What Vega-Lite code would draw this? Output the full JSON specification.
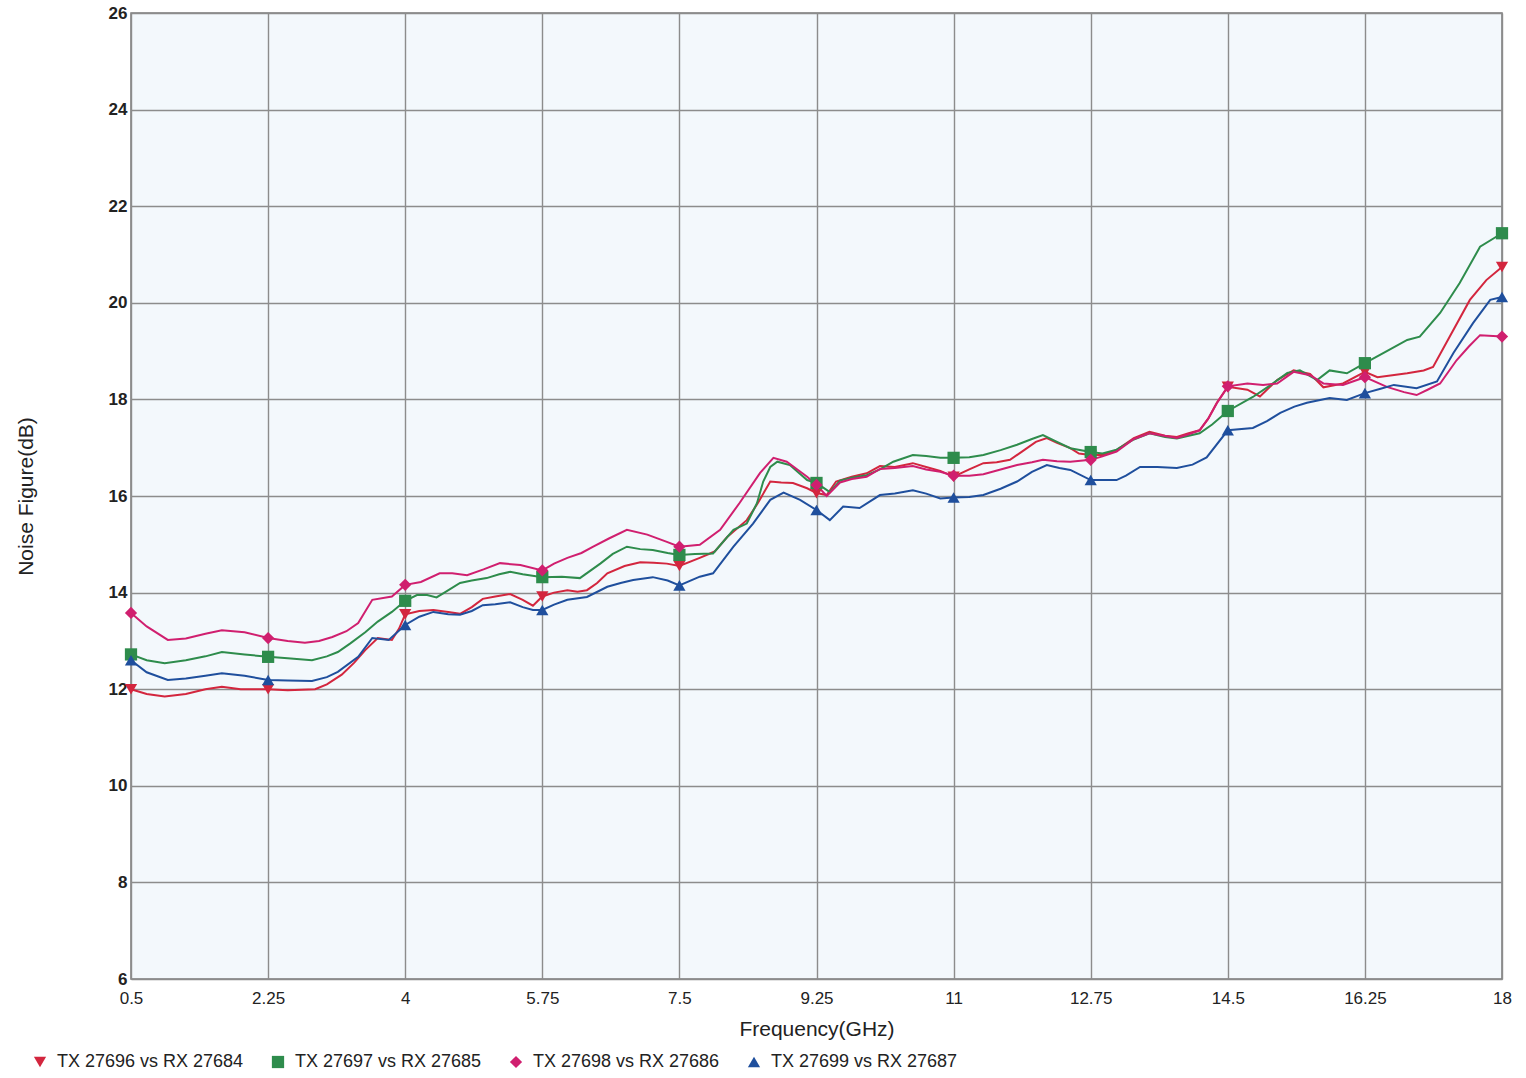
{
  "$schema": "https://vega.github.io/schema/vega-lite/v6.json",
  "width": 1371,
  "height": 966,
  "autosize": {"type": "none"},
  "padding": {"left": 131, "top": 13, "right": 24, "bottom": 99},
  "background": "#ffffff",
  "config": {
    "view": {"fill": "#f3f8fc", "stroke": "#7a7a7a", "strokeWidth": 1.5},
    "font": "Liberation Sans",
    "axis": {
      "gridColor": "#8c8c8c",
      "gridWidth": 1.4,
      "gridOpacity": 1,
      "domain": false,
      "ticks": false,
      "labelColor": "#222222",
      "titleColor": "#222222",
      "titleFontWeight": "normal",
      "labelFont": "Liberation Sans",
      "titleFont": "Liberation Sans"
    },
    "legend": {
      "labelFont": "Liberation Sans",
      "labelColor": "#222222",
      "labelLimit": 0
    }
  },
  "data": {
    "values": [
      {"series": "TX 27696 vs RX 27684", "freq": 0.5, "nf": 12.0},
      {"series": "TX 27696 vs RX 27684", "freq": 0.7, "nf": 11.9},
      {"series": "TX 27696 vs RX 27684", "freq": 0.93, "nf": 11.85},
      {"series": "TX 27696 vs RX 27684", "freq": 1.2, "nf": 11.9},
      {"series": "TX 27696 vs RX 27684", "freq": 1.45, "nf": 12.0},
      {"series": "TX 27696 vs RX 27684", "freq": 1.66, "nf": 12.05},
      {"series": "TX 27696 vs RX 27684", "freq": 1.9, "nf": 12.0},
      {"series": "TX 27696 vs RX 27684", "freq": 2.25, "nf": 12.0},
      {"series": "TX 27696 vs RX 27684", "freq": 2.5, "nf": 11.98},
      {"series": "TX 27696 vs RX 27684", "freq": 2.85, "nf": 12.0},
      {"series": "TX 27696 vs RX 27684", "freq": 3.0, "nf": 12.1},
      {"series": "TX 27696 vs RX 27684", "freq": 3.19, "nf": 12.3},
      {"series": "TX 27696 vs RX 27684", "freq": 3.35, "nf": 12.55},
      {"series": "TX 27696 vs RX 27684", "freq": 3.49, "nf": 12.81},
      {"series": "TX 27696 vs RX 27684", "freq": 3.65, "nf": 13.06},
      {"series": "TX 27696 vs RX 27684", "freq": 3.83, "nf": 13.02},
      {"series": "TX 27696 vs RX 27684", "freq": 3.92, "nf": 13.25},
      {"series": "TX 27696 vs RX 27684", "freq": 4.0, "nf": 13.55},
      {"series": "TX 27696 vs RX 27684", "freq": 4.18, "nf": 13.62},
      {"series": "TX 27696 vs RX 27684", "freq": 4.36, "nf": 13.64},
      {"series": "TX 27696 vs RX 27684", "freq": 4.55, "nf": 13.6},
      {"series": "TX 27696 vs RX 27684", "freq": 4.7, "nf": 13.56},
      {"series": "TX 27696 vs RX 27684", "freq": 4.85, "nf": 13.7},
      {"series": "TX 27696 vs RX 27684", "freq": 4.99, "nf": 13.87},
      {"series": "TX 27696 vs RX 27684", "freq": 5.15, "nf": 13.92},
      {"series": "TX 27696 vs RX 27684", "freq": 5.34, "nf": 13.97},
      {"series": "TX 27696 vs RX 27684", "freq": 5.5, "nf": 13.85},
      {"series": "TX 27696 vs RX 27684", "freq": 5.63, "nf": 13.73},
      {"series": "TX 27696 vs RX 27684", "freq": 5.75, "nf": 13.92},
      {"series": "TX 27696 vs RX 27684", "freq": 5.9, "nf": 14.0},
      {"series": "TX 27696 vs RX 27684", "freq": 6.07, "nf": 14.05},
      {"series": "TX 27696 vs RX 27684", "freq": 6.2, "nf": 14.02},
      {"series": "TX 27696 vs RX 27684", "freq": 6.32, "nf": 14.05},
      {"series": "TX 27696 vs RX 27684", "freq": 6.45, "nf": 14.2},
      {"series": "TX 27696 vs RX 27684", "freq": 6.58, "nf": 14.4},
      {"series": "TX 27696 vs RX 27684", "freq": 6.8, "nf": 14.55},
      {"series": "TX 27696 vs RX 27684", "freq": 7.0, "nf": 14.63},
      {"series": "TX 27696 vs RX 27684", "freq": 7.17, "nf": 14.62},
      {"series": "TX 27696 vs RX 27684", "freq": 7.34, "nf": 14.6},
      {"series": "TX 27696 vs RX 27684", "freq": 7.5, "nf": 14.55},
      {"series": "TX 27696 vs RX 27684", "freq": 7.76, "nf": 14.72},
      {"series": "TX 27696 vs RX 27684", "freq": 7.95, "nf": 14.85},
      {"series": "TX 27696 vs RX 27684", "freq": 8.11, "nf": 15.15},
      {"series": "TX 27696 vs RX 27684", "freq": 8.36, "nf": 15.5},
      {"series": "TX 27696 vs RX 27684", "freq": 8.5, "nf": 15.85},
      {"series": "TX 27696 vs RX 27684", "freq": 8.66, "nf": 16.3},
      {"series": "TX 27696 vs RX 27684", "freq": 8.8, "nf": 16.28},
      {"series": "TX 27696 vs RX 27684", "freq": 8.95, "nf": 16.27},
      {"series": "TX 27696 vs RX 27684", "freq": 9.13, "nf": 16.16},
      {"series": "TX 27696 vs RX 27684", "freq": 9.25, "nf": 16.06},
      {"series": "TX 27696 vs RX 27684", "freq": 9.38, "nf": 16.02},
      {"series": "TX 27696 vs RX 27684", "freq": 9.5, "nf": 16.3},
      {"series": "TX 27696 vs RX 27684", "freq": 9.7, "nf": 16.4},
      {"series": "TX 27696 vs RX 27684", "freq": 9.89, "nf": 16.47},
      {"series": "TX 27696 vs RX 27684", "freq": 10.06, "nf": 16.62},
      {"series": "TX 27696 vs RX 27684", "freq": 10.25, "nf": 16.6},
      {"series": "TX 27696 vs RX 27684", "freq": 10.48, "nf": 16.68},
      {"series": "TX 27696 vs RX 27684", "freq": 10.65, "nf": 16.6},
      {"series": "TX 27696 vs RX 27684", "freq": 10.83, "nf": 16.52},
      {"series": "TX 27696 vs RX 27684", "freq": 11.0, "nf": 16.4},
      {"series": "TX 27696 vs RX 27684", "freq": 11.2, "nf": 16.55},
      {"series": "TX 27696 vs RX 27684", "freq": 11.38, "nf": 16.68},
      {"series": "TX 27696 vs RX 27684", "freq": 11.55, "nf": 16.7},
      {"series": "TX 27696 vs RX 27684", "freq": 11.72, "nf": 16.75},
      {"series": "TX 27696 vs RX 27684", "freq": 11.9, "nf": 16.95},
      {"series": "TX 27696 vs RX 27684", "freq": 12.05, "nf": 17.12},
      {"series": "TX 27696 vs RX 27684", "freq": 12.19, "nf": 17.2},
      {"series": "TX 27696 vs RX 27684", "freq": 12.32, "nf": 17.1},
      {"series": "TX 27696 vs RX 27684", "freq": 12.49, "nf": 16.99},
      {"series": "TX 27696 vs RX 27684", "freq": 12.6, "nf": 16.88},
      {"series": "TX 27696 vs RX 27684", "freq": 12.75, "nf": 16.85},
      {"series": "TX 27696 vs RX 27684", "freq": 12.9, "nf": 16.85},
      {"series": "TX 27696 vs RX 27684", "freq": 13.08, "nf": 16.95},
      {"series": "TX 27696 vs RX 27684", "freq": 13.3, "nf": 17.2},
      {"series": "TX 27696 vs RX 27684", "freq": 13.5, "nf": 17.33},
      {"series": "TX 27696 vs RX 27684", "freq": 13.7, "nf": 17.25},
      {"series": "TX 27696 vs RX 27684", "freq": 13.85, "nf": 17.22},
      {"series": "TX 27696 vs RX 27684", "freq": 14.0, "nf": 17.3},
      {"series": "TX 27696 vs RX 27684", "freq": 14.14, "nf": 17.36},
      {"series": "TX 27696 vs RX 27684", "freq": 14.25, "nf": 17.6},
      {"series": "TX 27696 vs RX 27684", "freq": 14.36, "nf": 17.93},
      {"series": "TX 27696 vs RX 27684", "freq": 14.5, "nf": 18.26},
      {"series": "TX 27696 vs RX 27684", "freq": 14.75, "nf": 18.2},
      {"series": "TX 27696 vs RX 27684", "freq": 14.91, "nf": 18.06},
      {"series": "TX 27696 vs RX 27684", "freq": 15.13, "nf": 18.4},
      {"series": "TX 27696 vs RX 27684", "freq": 15.34, "nf": 18.6},
      {"series": "TX 27696 vs RX 27684", "freq": 15.55, "nf": 18.53},
      {"series": "TX 27696 vs RX 27684", "freq": 15.72, "nf": 18.25},
      {"series": "TX 27696 vs RX 27684", "freq": 15.97, "nf": 18.33},
      {"series": "TX 27696 vs RX 27684", "freq": 16.25, "nf": 18.57},
      {"series": "TX 27696 vs RX 27684", "freq": 16.41, "nf": 18.46},
      {"series": "TX 27696 vs RX 27684", "freq": 16.6, "nf": 18.5},
      {"series": "TX 27696 vs RX 27684", "freq": 16.79, "nf": 18.54},
      {"series": "TX 27696 vs RX 27684", "freq": 17.0, "nf": 18.6},
      {"series": "TX 27696 vs RX 27684", "freq": 17.12, "nf": 18.67},
      {"series": "TX 27696 vs RX 27684", "freq": 17.33, "nf": 19.29},
      {"series": "TX 27696 vs RX 27684", "freq": 17.59, "nf": 20.06},
      {"series": "TX 27696 vs RX 27684", "freq": 17.8, "nf": 20.47},
      {"series": "TX 27696 vs RX 27684", "freq": 18.0, "nf": 20.74},

      {"series": "TX 27697 vs RX 27685", "freq": 0.5, "nf": 12.72},
      {"series": "TX 27697 vs RX 27685", "freq": 0.7, "nf": 12.6},
      {"series": "TX 27697 vs RX 27685", "freq": 0.93, "nf": 12.54},
      {"series": "TX 27697 vs RX 27685", "freq": 1.2, "nf": 12.6},
      {"series": "TX 27697 vs RX 27685", "freq": 1.45, "nf": 12.68},
      {"series": "TX 27697 vs RX 27685", "freq": 1.66, "nf": 12.77},
      {"series": "TX 27697 vs RX 27685", "freq": 1.95, "nf": 12.72},
      {"series": "TX 27697 vs RX 27685", "freq": 2.25, "nf": 12.67},
      {"series": "TX 27697 vs RX 27685", "freq": 2.5, "nf": 12.64},
      {"series": "TX 27697 vs RX 27685", "freq": 2.81, "nf": 12.6},
      {"series": "TX 27697 vs RX 27685", "freq": 3.0, "nf": 12.68},
      {"series": "TX 27697 vs RX 27685", "freq": 3.14, "nf": 12.77},
      {"series": "TX 27697 vs RX 27685", "freq": 3.3, "nf": 12.95},
      {"series": "TX 27697 vs RX 27685", "freq": 3.49, "nf": 13.18},
      {"series": "TX 27697 vs RX 27685", "freq": 3.65, "nf": 13.4},
      {"series": "TX 27697 vs RX 27685", "freq": 3.83, "nf": 13.6},
      {"series": "TX 27697 vs RX 27685", "freq": 4.0, "nf": 13.83},
      {"series": "TX 27697 vs RX 27685", "freq": 4.15, "nf": 13.95},
      {"series": "TX 27697 vs RX 27685", "freq": 4.28, "nf": 13.95},
      {"series": "TX 27697 vs RX 27685", "freq": 4.4, "nf": 13.9},
      {"series": "TX 27697 vs RX 27685", "freq": 4.49, "nf": 13.99},
      {"series": "TX 27697 vs RX 27685", "freq": 4.7, "nf": 14.2},
      {"series": "TX 27697 vs RX 27685", "freq": 4.85, "nf": 14.25},
      {"series": "TX 27697 vs RX 27685", "freq": 5.04, "nf": 14.3},
      {"series": "TX 27697 vs RX 27685", "freq": 5.2, "nf": 14.38},
      {"series": "TX 27697 vs RX 27685", "freq": 5.34, "nf": 14.43},
      {"series": "TX 27697 vs RX 27685", "freq": 5.5, "nf": 14.38},
      {"series": "TX 27697 vs RX 27685", "freq": 5.75, "nf": 14.32},
      {"series": "TX 27697 vs RX 27685", "freq": 6.0, "nf": 14.33},
      {"series": "TX 27697 vs RX 27685", "freq": 6.23, "nf": 14.3},
      {"series": "TX 27697 vs RX 27685", "freq": 6.49, "nf": 14.6},
      {"series": "TX 27697 vs RX 27685", "freq": 6.65, "nf": 14.8},
      {"series": "TX 27697 vs RX 27685", "freq": 6.83, "nf": 14.95},
      {"series": "TX 27697 vs RX 27685", "freq": 7.0, "nf": 14.9},
      {"series": "TX 27697 vs RX 27685", "freq": 7.16, "nf": 14.88},
      {"series": "TX 27697 vs RX 27685", "freq": 7.35, "nf": 14.82},
      {"series": "TX 27697 vs RX 27685", "freq": 7.5, "nf": 14.78},
      {"series": "TX 27697 vs RX 27685", "freq": 7.7, "nf": 14.8},
      {"series": "TX 27697 vs RX 27685", "freq": 7.93, "nf": 14.81},
      {"series": "TX 27697 vs RX 27685", "freq": 8.19, "nf": 15.3},
      {"series": "TX 27697 vs RX 27685", "freq": 8.36, "nf": 15.43},
      {"series": "TX 27697 vs RX 27685", "freq": 8.49, "nf": 15.85},
      {"series": "TX 27697 vs RX 27685", "freq": 8.57, "nf": 16.3},
      {"series": "TX 27697 vs RX 27685", "freq": 8.66, "nf": 16.6},
      {"series": "TX 27697 vs RX 27685", "freq": 8.75, "nf": 16.71},
      {"series": "TX 27697 vs RX 27685", "freq": 8.91, "nf": 16.64},
      {"series": "TX 27697 vs RX 27685", "freq": 9.13, "nf": 16.33},
      {"series": "TX 27697 vs RX 27685", "freq": 9.25, "nf": 16.27},
      {"series": "TX 27697 vs RX 27685", "freq": 9.42, "nf": 16.08},
      {"series": "TX 27697 vs RX 27685", "freq": 9.55, "nf": 16.32},
      {"series": "TX 27697 vs RX 27685", "freq": 9.7, "nf": 16.38},
      {"series": "TX 27697 vs RX 27685", "freq": 9.89, "nf": 16.43},
      {"series": "TX 27697 vs RX 27685", "freq": 10.06, "nf": 16.55},
      {"series": "TX 27697 vs RX 27685", "freq": 10.23, "nf": 16.71},
      {"series": "TX 27697 vs RX 27685", "freq": 10.48, "nf": 16.85},
      {"series": "TX 27697 vs RX 27685", "freq": 10.65, "nf": 16.83},
      {"series": "TX 27697 vs RX 27685", "freq": 10.83, "nf": 16.79},
      {"series": "TX 27697 vs RX 27685", "freq": 11.0, "nf": 16.79},
      {"series": "TX 27697 vs RX 27685", "freq": 11.2, "nf": 16.8},
      {"series": "TX 27697 vs RX 27685", "freq": 11.38, "nf": 16.85},
      {"series": "TX 27697 vs RX 27685", "freq": 11.6, "nf": 16.95},
      {"series": "TX 27697 vs RX 27685", "freq": 11.81, "nf": 17.06},
      {"series": "TX 27697 vs RX 27685", "freq": 12.0, "nf": 17.18},
      {"series": "TX 27697 vs RX 27685", "freq": 12.14, "nf": 17.26},
      {"series": "TX 27697 vs RX 27685", "freq": 12.32, "nf": 17.12},
      {"series": "TX 27697 vs RX 27685", "freq": 12.49, "nf": 16.99},
      {"series": "TX 27697 vs RX 27685", "freq": 12.75, "nf": 16.91},
      {"series": "TX 27697 vs RX 27685", "freq": 12.9, "nf": 16.88},
      {"series": "TX 27697 vs RX 27685", "freq": 13.08, "nf": 16.96},
      {"series": "TX 27697 vs RX 27685", "freq": 13.3, "nf": 17.17},
      {"series": "TX 27697 vs RX 27685", "freq": 13.5, "nf": 17.3},
      {"series": "TX 27697 vs RX 27685", "freq": 13.7, "nf": 17.22},
      {"series": "TX 27697 vs RX 27685", "freq": 13.85, "nf": 17.19},
      {"series": "TX 27697 vs RX 27685", "freq": 14.14, "nf": 17.3},
      {"series": "TX 27697 vs RX 27685", "freq": 14.3, "nf": 17.48},
      {"series": "TX 27697 vs RX 27685", "freq": 14.5, "nf": 17.76},
      {"series": "TX 27697 vs RX 27685", "freq": 14.82, "nf": 18.05},
      {"series": "TX 27697 vs RX 27685", "freq": 15.05, "nf": 18.3},
      {"series": "TX 27697 vs RX 27685", "freq": 15.26, "nf": 18.55},
      {"series": "TX 27697 vs RX 27685", "freq": 15.42, "nf": 18.6},
      {"series": "TX 27697 vs RX 27685", "freq": 15.64, "nf": 18.4},
      {"series": "TX 27697 vs RX 27685", "freq": 15.8, "nf": 18.6},
      {"series": "TX 27697 vs RX 27685", "freq": 16.02, "nf": 18.54},
      {"series": "TX 27697 vs RX 27685", "freq": 16.25, "nf": 18.75},
      {"series": "TX 27697 vs RX 27685", "freq": 16.53, "nf": 19.0},
      {"series": "TX 27697 vs RX 27685", "freq": 16.79, "nf": 19.23},
      {"series": "TX 27697 vs RX 27685", "freq": 16.95, "nf": 19.3},
      {"series": "TX 27697 vs RX 27685", "freq": 17.21, "nf": 19.79},
      {"series": "TX 27697 vs RX 27685", "freq": 17.46, "nf": 20.41},
      {"series": "TX 27697 vs RX 27685", "freq": 17.72, "nf": 21.16},
      {"series": "TX 27697 vs RX 27685", "freq": 18.0, "nf": 21.44},

      {"series": "TX 27698 vs RX 27686", "freq": 0.5, "nf": 13.58},
      {"series": "TX 27698 vs RX 27686", "freq": 0.7, "nf": 13.3},
      {"series": "TX 27698 vs RX 27686", "freq": 0.97, "nf": 13.02},
      {"series": "TX 27698 vs RX 27686", "freq": 1.2, "nf": 13.05},
      {"series": "TX 27698 vs RX 27686", "freq": 1.45, "nf": 13.15},
      {"series": "TX 27698 vs RX 27686", "freq": 1.66, "nf": 13.22},
      {"series": "TX 27698 vs RX 27686", "freq": 1.95, "nf": 13.18},
      {"series": "TX 27698 vs RX 27686", "freq": 2.25, "nf": 13.06},
      {"series": "TX 27698 vs RX 27686", "freq": 2.5, "nf": 13.0},
      {"series": "TX 27698 vs RX 27686", "freq": 2.72, "nf": 12.96},
      {"series": "TX 27698 vs RX 27686", "freq": 2.9, "nf": 13.0},
      {"series": "TX 27698 vs RX 27686", "freq": 3.07, "nf": 13.08},
      {"series": "TX 27698 vs RX 27686", "freq": 3.25, "nf": 13.2},
      {"series": "TX 27698 vs RX 27686", "freq": 3.4, "nf": 13.37},
      {"series": "TX 27698 vs RX 27686", "freq": 3.58, "nf": 13.85},
      {"series": "TX 27698 vs RX 27686", "freq": 3.83, "nf": 13.92},
      {"series": "TX 27698 vs RX 27686", "freq": 4.0, "nf": 14.16},
      {"series": "TX 27698 vs RX 27686", "freq": 4.2, "nf": 14.22},
      {"series": "TX 27698 vs RX 27686", "freq": 4.44, "nf": 14.4},
      {"series": "TX 27698 vs RX 27686", "freq": 4.6, "nf": 14.4},
      {"series": "TX 27698 vs RX 27686", "freq": 4.79, "nf": 14.36},
      {"series": "TX 27698 vs RX 27686", "freq": 5.0, "nf": 14.48},
      {"series": "TX 27698 vs RX 27686", "freq": 5.21, "nf": 14.61},
      {"series": "TX 27698 vs RX 27686", "freq": 5.47, "nf": 14.57},
      {"series": "TX 27698 vs RX 27686", "freq": 5.75, "nf": 14.46},
      {"series": "TX 27698 vs RX 27686", "freq": 5.9, "nf": 14.6},
      {"series": "TX 27698 vs RX 27686", "freq": 6.07, "nf": 14.72},
      {"series": "TX 27698 vs RX 27686", "freq": 6.25, "nf": 14.82},
      {"series": "TX 27698 vs RX 27686", "freq": 6.4, "nf": 14.95},
      {"series": "TX 27698 vs RX 27686", "freq": 6.6, "nf": 15.12},
      {"series": "TX 27698 vs RX 27686", "freq": 6.83, "nf": 15.3},
      {"series": "TX 27698 vs RX 27686", "freq": 7.09, "nf": 15.2},
      {"series": "TX 27698 vs RX 27686", "freq": 7.34, "nf": 15.05},
      {"series": "TX 27698 vs RX 27686", "freq": 7.5, "nf": 14.95},
      {"series": "TX 27698 vs RX 27686", "freq": 7.76, "nf": 14.99},
      {"series": "TX 27698 vs RX 27686", "freq": 8.02, "nf": 15.3},
      {"series": "TX 27698 vs RX 27686", "freq": 8.27, "nf": 15.86},
      {"series": "TX 27698 vs RX 27686", "freq": 8.53, "nf": 16.48},
      {"series": "TX 27698 vs RX 27686", "freq": 8.7, "nf": 16.79},
      {"series": "TX 27698 vs RX 27686", "freq": 8.87, "nf": 16.71},
      {"series": "TX 27698 vs RX 27686", "freq": 9.13, "nf": 16.4},
      {"series": "TX 27698 vs RX 27686", "freq": 9.25, "nf": 16.23},
      {"series": "TX 27698 vs RX 27686", "freq": 9.38, "nf": 16.0},
      {"series": "TX 27698 vs RX 27686", "freq": 9.55, "nf": 16.28},
      {"series": "TX 27698 vs RX 27686", "freq": 9.7, "nf": 16.35},
      {"series": "TX 27698 vs RX 27686", "freq": 9.89, "nf": 16.4},
      {"series": "TX 27698 vs RX 27686", "freq": 10.06, "nf": 16.56},
      {"series": "TX 27698 vs RX 27686", "freq": 10.25, "nf": 16.58},
      {"series": "TX 27698 vs RX 27686", "freq": 10.48, "nf": 16.62},
      {"series": "TX 27698 vs RX 27686", "freq": 10.65, "nf": 16.55},
      {"series": "TX 27698 vs RX 27686", "freq": 10.83, "nf": 16.5},
      {"series": "TX 27698 vs RX 27686", "freq": 11.0, "nf": 16.42},
      {"series": "TX 27698 vs RX 27686", "freq": 11.2, "nf": 16.42},
      {"series": "TX 27698 vs RX 27686", "freq": 11.38, "nf": 16.45},
      {"series": "TX 27698 vs RX 27686", "freq": 11.6, "nf": 16.55},
      {"series": "TX 27698 vs RX 27686", "freq": 11.81, "nf": 16.64},
      {"series": "TX 27698 vs RX 27686", "freq": 12.0, "nf": 16.7},
      {"series": "TX 27698 vs RX 27686", "freq": 12.14, "nf": 16.75},
      {"series": "TX 27698 vs RX 27686", "freq": 12.32, "nf": 16.72},
      {"series": "TX 27698 vs RX 27686", "freq": 12.49, "nf": 16.71},
      {"series": "TX 27698 vs RX 27686", "freq": 12.75, "nf": 16.75},
      {"series": "TX 27698 vs RX 27686", "freq": 12.9, "nf": 16.82},
      {"series": "TX 27698 vs RX 27686", "freq": 13.08, "nf": 16.92},
      {"series": "TX 27698 vs RX 27686", "freq": 13.3, "nf": 17.18},
      {"series": "TX 27698 vs RX 27686", "freq": 13.5, "nf": 17.3},
      {"series": "TX 27698 vs RX 27686", "freq": 13.7, "nf": 17.24},
      {"series": "TX 27698 vs RX 27686", "freq": 13.85, "nf": 17.2},
      {"series": "TX 27698 vs RX 27686", "freq": 14.0, "nf": 17.28},
      {"series": "TX 27698 vs RX 27686", "freq": 14.14, "nf": 17.36},
      {"series": "TX 27698 vs RX 27686", "freq": 14.25, "nf": 17.6},
      {"series": "TX 27698 vs RX 27686", "freq": 14.36, "nf": 17.92},
      {"series": "TX 27698 vs RX 27686", "freq": 14.5, "nf": 18.27},
      {"series": "TX 27698 vs RX 27686", "freq": 14.75, "nf": 18.33},
      {"series": "TX 27698 vs RX 27686", "freq": 14.95, "nf": 18.3},
      {"series": "TX 27698 vs RX 27686", "freq": 15.13, "nf": 18.33},
      {"series": "TX 27698 vs RX 27686", "freq": 15.34, "nf": 18.57},
      {"series": "TX 27698 vs RX 27686", "freq": 15.55, "nf": 18.5},
      {"series": "TX 27698 vs RX 27686", "freq": 15.72, "nf": 18.33},
      {"series": "TX 27698 vs RX 27686", "freq": 15.97, "nf": 18.3},
      {"series": "TX 27698 vs RX 27686", "freq": 16.25, "nf": 18.46},
      {"series": "TX 27698 vs RX 27686", "freq": 16.53, "nf": 18.26},
      {"series": "TX 27698 vs RX 27686", "freq": 16.75, "nf": 18.15},
      {"series": "TX 27698 vs RX 27686", "freq": 16.91, "nf": 18.09},
      {"series": "TX 27698 vs RX 27686", "freq": 17.05, "nf": 18.2},
      {"series": "TX 27698 vs RX 27686", "freq": 17.21, "nf": 18.33},
      {"series": "TX 27698 vs RX 27686", "freq": 17.42, "nf": 18.81},
      {"series": "TX 27698 vs RX 27686", "freq": 17.58, "nf": 19.1},
      {"series": "TX 27698 vs RX 27686", "freq": 17.72, "nf": 19.33},
      {"series": "TX 27698 vs RX 27686", "freq": 18.0, "nf": 19.3},

      {"series": "TX 27699 vs RX 27687", "freq": 0.5, "nf": 12.6},
      {"series": "TX 27699 vs RX 27687", "freq": 0.7, "nf": 12.35},
      {"series": "TX 27699 vs RX 27687", "freq": 0.97, "nf": 12.19},
      {"series": "TX 27699 vs RX 27687", "freq": 1.2, "nf": 12.22},
      {"series": "TX 27699 vs RX 27687", "freq": 1.45, "nf": 12.28},
      {"series": "TX 27699 vs RX 27687", "freq": 1.66, "nf": 12.33},
      {"series": "TX 27699 vs RX 27687", "freq": 1.95, "nf": 12.28},
      {"series": "TX 27699 vs RX 27687", "freq": 2.25, "nf": 12.19},
      {"series": "TX 27699 vs RX 27687", "freq": 2.5, "nf": 12.18},
      {"series": "TX 27699 vs RX 27687", "freq": 2.81, "nf": 12.17},
      {"series": "TX 27699 vs RX 27687", "freq": 3.0, "nf": 12.25},
      {"series": "TX 27699 vs RX 27687", "freq": 3.14, "nf": 12.36},
      {"series": "TX 27699 vs RX 27687", "freq": 3.4, "nf": 12.67},
      {"series": "TX 27699 vs RX 27687", "freq": 3.58, "nf": 13.06},
      {"series": "TX 27699 vs RX 27687", "freq": 3.79, "nf": 13.02},
      {"series": "TX 27699 vs RX 27687", "freq": 4.0, "nf": 13.33},
      {"series": "TX 27699 vs RX 27687", "freq": 4.18, "nf": 13.5},
      {"series": "TX 27699 vs RX 27687", "freq": 4.36, "nf": 13.6},
      {"series": "TX 27699 vs RX 27687", "freq": 4.55, "nf": 13.55},
      {"series": "TX 27699 vs RX 27687", "freq": 4.7, "nf": 13.54},
      {"series": "TX 27699 vs RX 27687", "freq": 4.85, "nf": 13.62},
      {"series": "TX 27699 vs RX 27687", "freq": 4.99, "nf": 13.74},
      {"series": "TX 27699 vs RX 27687", "freq": 5.15, "nf": 13.76},
      {"series": "TX 27699 vs RX 27687", "freq": 5.34, "nf": 13.8},
      {"series": "TX 27699 vs RX 27687", "freq": 5.5, "nf": 13.7},
      {"series": "TX 27699 vs RX 27687", "freq": 5.63, "nf": 13.64},
      {"series": "TX 27699 vs RX 27687", "freq": 5.75, "nf": 13.64},
      {"series": "TX 27699 vs RX 27687", "freq": 5.9, "nf": 13.75},
      {"series": "TX 27699 vs RX 27687", "freq": 6.07, "nf": 13.85},
      {"series": "TX 27699 vs RX 27687", "freq": 6.32, "nf": 13.91},
      {"series": "TX 27699 vs RX 27687", "freq": 6.58, "nf": 14.12},
      {"series": "TX 27699 vs RX 27687", "freq": 6.75, "nf": 14.2},
      {"series": "TX 27699 vs RX 27687", "freq": 6.91, "nf": 14.26},
      {"series": "TX 27699 vs RX 27687", "freq": 7.16, "nf": 14.32},
      {"series": "TX 27699 vs RX 27687", "freq": 7.35, "nf": 14.25},
      {"series": "TX 27699 vs RX 27687", "freq": 7.5, "nf": 14.15},
      {"series": "TX 27699 vs RX 27687", "freq": 7.76, "nf": 14.33},
      {"series": "TX 27699 vs RX 27687", "freq": 7.93, "nf": 14.4},
      {"series": "TX 27699 vs RX 27687", "freq": 8.19, "nf": 14.95},
      {"series": "TX 27699 vs RX 27687", "freq": 8.44, "nf": 15.43},
      {"series": "TX 27699 vs RX 27687", "freq": 8.66, "nf": 15.92},
      {"series": "TX 27699 vs RX 27687", "freq": 8.83, "nf": 16.07},
      {"series": "TX 27699 vs RX 27687", "freq": 9.04, "nf": 15.92},
      {"series": "TX 27699 vs RX 27687", "freq": 9.25, "nf": 15.71},
      {"series": "TX 27699 vs RX 27687", "freq": 9.42, "nf": 15.5},
      {"series": "TX 27699 vs RX 27687", "freq": 9.59, "nf": 15.78},
      {"series": "TX 27699 vs RX 27687", "freq": 9.8, "nf": 15.75},
      {"series": "TX 27699 vs RX 27687", "freq": 10.06, "nf": 16.02},
      {"series": "TX 27699 vs RX 27687", "freq": 10.25, "nf": 16.05},
      {"series": "TX 27699 vs RX 27687", "freq": 10.48, "nf": 16.12},
      {"series": "TX 27699 vs RX 27687", "freq": 10.65, "nf": 16.05},
      {"series": "TX 27699 vs RX 27687", "freq": 10.83, "nf": 15.95},
      {"series": "TX 27699 vs RX 27687", "freq": 11.0, "nf": 15.97},
      {"series": "TX 27699 vs RX 27687", "freq": 11.2, "nf": 15.98},
      {"series": "TX 27699 vs RX 27687", "freq": 11.38, "nf": 16.02},
      {"series": "TX 27699 vs RX 27687", "freq": 11.6, "nf": 16.15},
      {"series": "TX 27699 vs RX 27687", "freq": 11.81, "nf": 16.3},
      {"series": "TX 27699 vs RX 27687", "freq": 12.0, "nf": 16.5},
      {"series": "TX 27699 vs RX 27687", "freq": 12.19, "nf": 16.64},
      {"series": "TX 27699 vs RX 27687", "freq": 12.35, "nf": 16.58},
      {"series": "TX 27699 vs RX 27687", "freq": 12.49, "nf": 16.54},
      {"series": "TX 27699 vs RX 27687", "freq": 12.75, "nf": 16.33},
      {"series": "TX 27699 vs RX 27687", "freq": 13.08, "nf": 16.33},
      {"series": "TX 27699 vs RX 27687", "freq": 13.2, "nf": 16.42},
      {"series": "TX 27699 vs RX 27687", "freq": 13.38, "nf": 16.6},
      {"series": "TX 27699 vs RX 27687", "freq": 13.6, "nf": 16.6},
      {"series": "TX 27699 vs RX 27687", "freq": 13.85, "nf": 16.58},
      {"series": "TX 27699 vs RX 27687", "freq": 14.05, "nf": 16.65},
      {"series": "TX 27699 vs RX 27687", "freq": 14.23, "nf": 16.8},
      {"series": "TX 27699 vs RX 27687", "freq": 14.5, "nf": 17.36},
      {"series": "TX 27699 vs RX 27687", "freq": 14.82, "nf": 17.41},
      {"series": "TX 27699 vs RX 27687", "freq": 15.0, "nf": 17.55},
      {"series": "TX 27699 vs RX 27687", "freq": 15.17, "nf": 17.72},
      {"series": "TX 27699 vs RX 27687", "freq": 15.35, "nf": 17.85},
      {"series": "TX 27699 vs RX 27687", "freq": 15.51, "nf": 17.93},
      {"series": "TX 27699 vs RX 27687", "freq": 15.8, "nf": 18.03},
      {"series": "TX 27699 vs RX 27687", "freq": 16.02, "nf": 17.99},
      {"series": "TX 27699 vs RX 27687", "freq": 16.25, "nf": 18.13},
      {"series": "TX 27699 vs RX 27687", "freq": 16.45, "nf": 18.22},
      {"series": "TX 27699 vs RX 27687", "freq": 16.62, "nf": 18.3},
      {"series": "TX 27699 vs RX 27687", "freq": 16.91, "nf": 18.23},
      {"series": "TX 27699 vs RX 27687", "freq": 17.17, "nf": 18.37},
      {"series": "TX 27699 vs RX 27687", "freq": 17.38, "nf": 18.96},
      {"series": "TX 27699 vs RX 27687", "freq": 17.63, "nf": 19.58},
      {"series": "TX 27699 vs RX 27687", "freq": 17.85, "nf": 20.06},
      {"series": "TX 27699 vs RX 27687", "freq": 18.0, "nf": 20.12}
    ]
  },
  "encoding": {
    "x": {
      "field": "freq",
      "type": "quantitative",
      "title": "Frequency(GHz)",
      "scale": {"domain": [0.5, 18], "nice": false, "zero": false},
      "axis": {
        "values": [0.5, 2.25, 4, 5.75, 7.5, 9.25, 11, 12.75, 14.5, 16.25, 18],
        "labelExpr": "'' + datum.value",
        "labelFlush": false,
        "labelOverlap": false,
        "labelFontSize": 17,
        "labelPadding": 11,
        "titleFontSize": 21,
        "titlePadding": 12
      }
    },
    "y": {
      "field": "nf",
      "type": "quantitative",
      "title": "Noise Figure(dB)",
      "scale": {"domain": [6, 26], "nice": false, "zero": false},
      "axis": {
        "values": [6, 8, 10, 12, 14, 16, 18, 20, 22, 24, 26],
        "labelFlush": false,
        "labelOverlap": false,
        "labelFontSize": 17,
        "labelFontWeight": "bold",
        "labelPadding": 4,
        "titleFontSize": 21,
        "titlePadding": 72
      }
    },
    "color": {
      "field": "series",
      "type": "nominal",
      "title": null,
      "scale": {
        "domain": ["TX 27696 vs RX 27684", "TX 27697 vs RX 27685", "TX 27698 vs RX 27686", "TX 27699 vs RX 27687"],
        "range": ["#d3263e", "#2e8c4c", "#d01f6f", "#1f4f9d"]
      },
      "legend": {
        "orient": "none",
        "direction": "horizontal",
        "columns": 4,
        "legendX": -100,
        "legendY": 1040,
        "symbolSize": 150,
        "symbolStrokeWidth": 0,
        "labelFontSize": 18,
        "labelLimit": 0,
        "labelOffset": 8,
        "columnPadding": 25,
        "padding": 0
      }
    }
  },
  "layer": [
    {
      "mark": {"type": "line", "strokeWidth": 2, "interpolate": "linear"}
    },
    {
      "transform": [
        {"filter": "indexof([0.5, 2.25, 4, 5.75, 7.5, 9.25, 11, 12.75, 14.5, 16.25, 18], datum.freq) >= 0"}
      ],
      "mark": {"type": "point", "filled": true, "opacity": 1, "size": 150},
      "encoding": {
        "shape": {
          "field": "series",
          "type": "nominal",
          "title": null,
          "scale": {
            "domain": ["TX 27696 vs RX 27684", "TX 27697 vs RX 27685", "TX 27698 vs RX 27686", "TX 27699 vs RX 27687"],
            "range": ["triangle-down", "square", "diamond", "triangle-up"]
          },
          "legend": {
            "orient": "none",
            "direction": "horizontal",
            "columns": 4,
            "legendX": -100,
            "legendY": 1040,
            "symbolSize": 150,
            "labelFontSize": 18,
            "labelLimit": 0,
            "labelOffset": 8,
            "columnPadding": 25,
            "padding": 0
          }
        }
      }
    }
  ],
  "resolve": {"legend": {"color": "shared", "shape": "shared"}}
}
